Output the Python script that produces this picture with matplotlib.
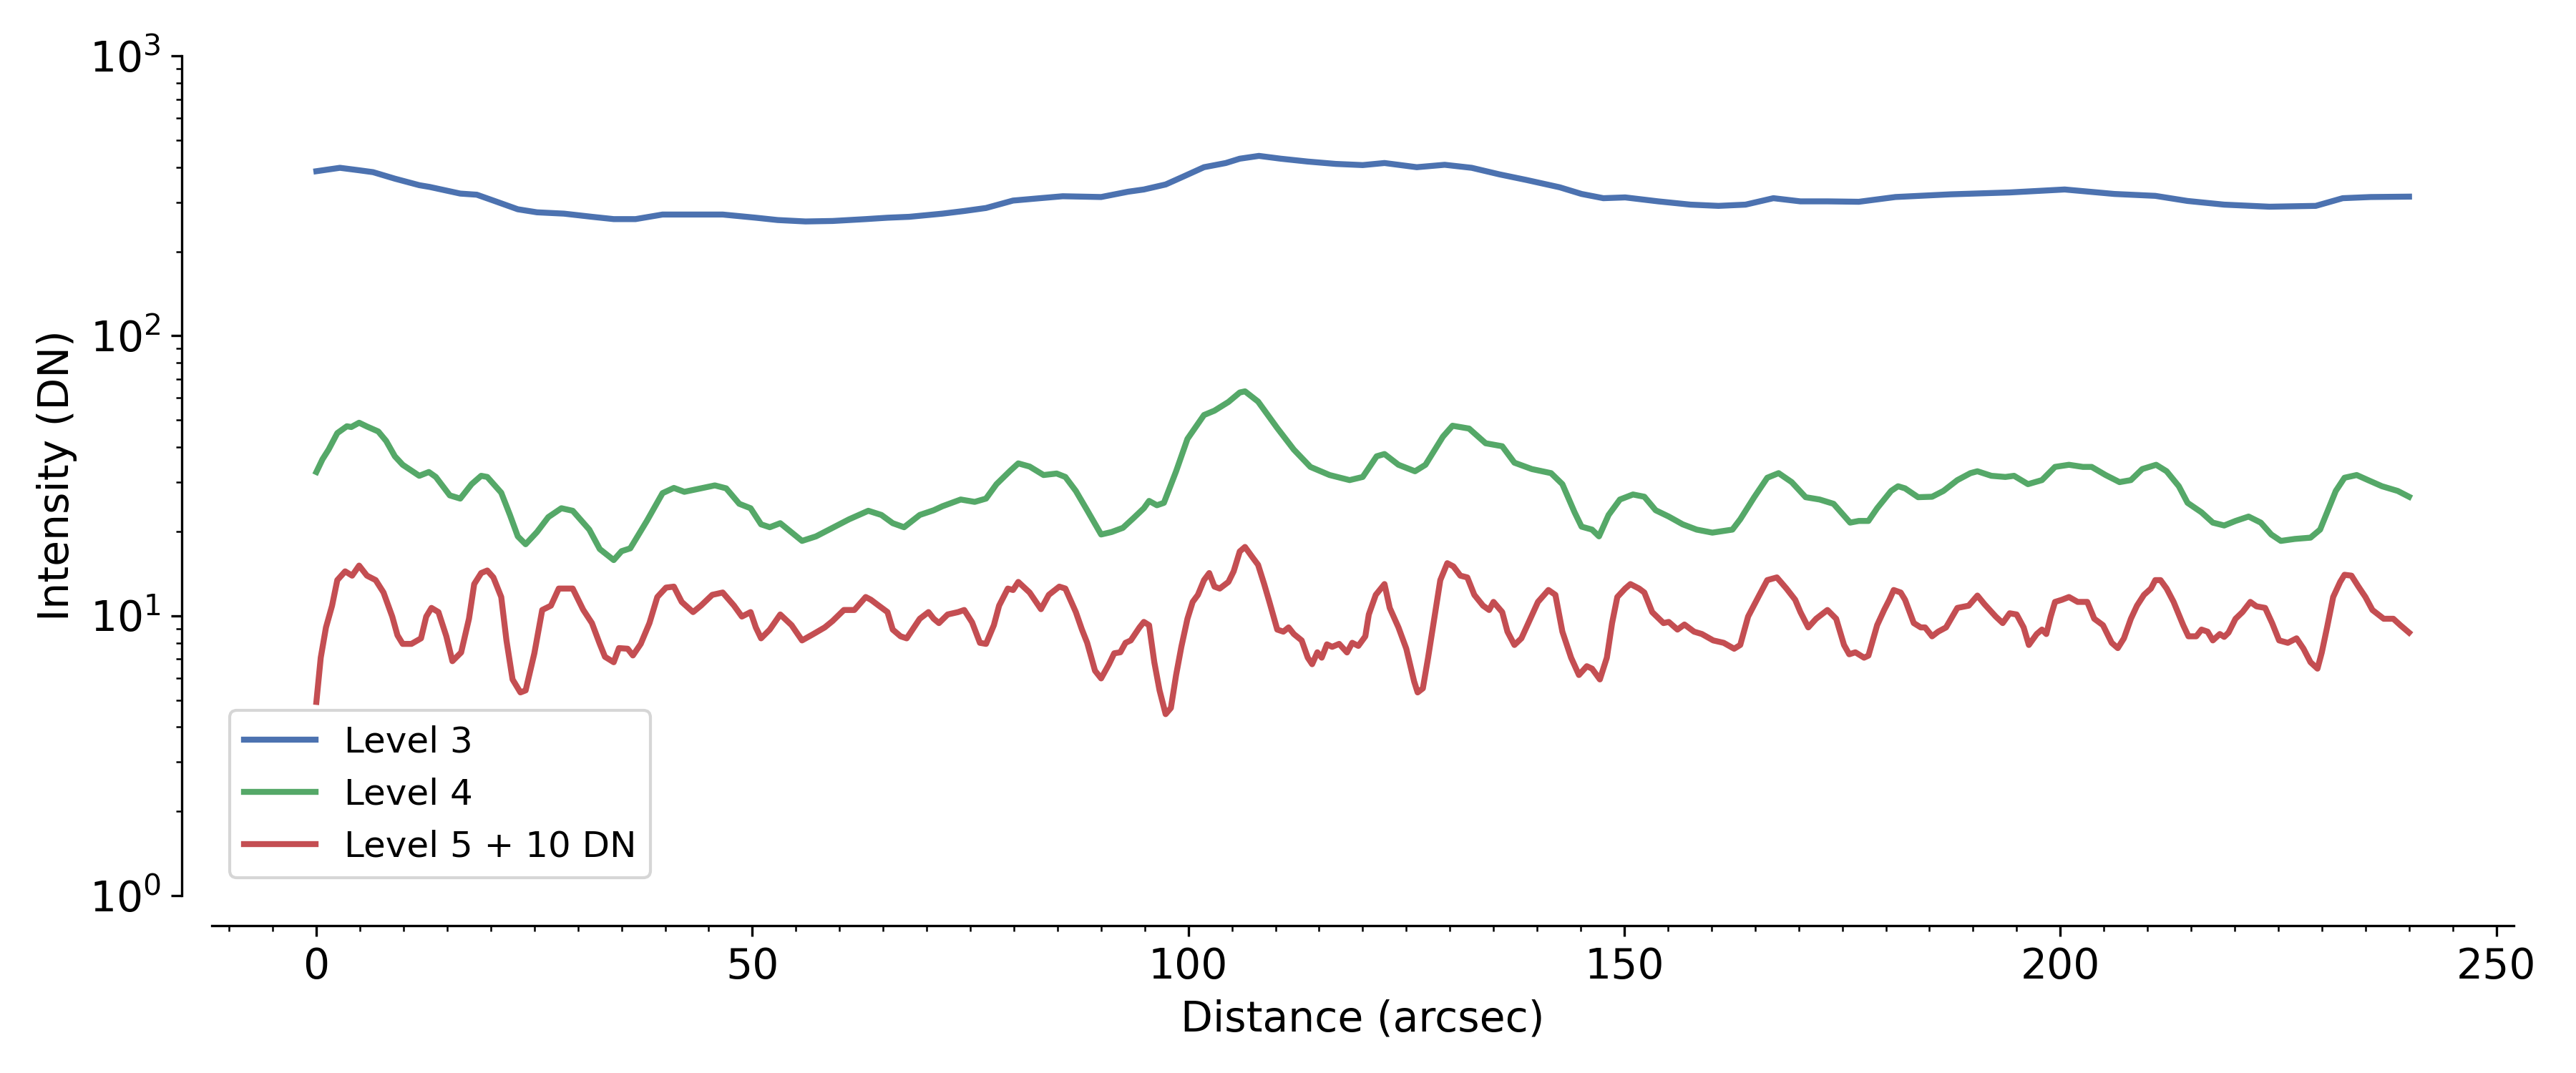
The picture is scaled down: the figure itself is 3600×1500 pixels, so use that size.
import numpy as np
import matplotlib.pyplot as plt
from matplotlib.ticker import MultipleLocator

# Level 3 profile (DN)
level3_x = [0, 2.7, 4.9, 6.5, 9, 11.8, 13, 16.5, 18.4, 20.3, 23.1, 25.3, 28.4, 31.6, 34.1, 36.6,
            39.7, 42.9, 46.6, 50.4, 52.9, 56.1, 59.2, 63, 65.5, 68, 71.8, 74.3, 76.8, 79.9, 83,
            85.6, 90, 93.1, 94.9, 97.4, 99.4, 101.8, 104.3, 105.9, 108.1, 110.6, 113.7, 116.9,
            120, 122.5, 126.2, 129.4, 132.5, 135.7, 138.8, 142.6, 145.1, 147.6, 150.1, 153.9,
            157.6, 160.8, 163.9, 167.1, 170.2, 173.3, 176.9, 181.1, 187.4, 194.2, 200.5, 206.2,
            210.9, 214.6, 218.8, 224, 229.3, 232.4, 235.6, 240]
level3_y = [387, 398, 390, 384, 364, 345, 340, 322, 319, 304, 283, 276, 273, 266, 261, 261,
            271, 271, 271, 264, 259, 256, 257, 261, 264, 266, 273, 279, 286, 304, 310,
            315, 313, 327, 333, 347, 370, 400, 414, 429, 439, 429, 419, 411,
            407, 414, 400, 408, 398, 377, 360, 339, 321, 310, 312, 302,
            294, 291, 294, 310, 302, 302, 301, 313, 320, 325, 333, 321,
            316, 303, 294, 289, 291, 310, 313, 314]

# Level 4 profile (DN)
level4_x = [0, 0.7, 1.4, 2.4, 3.5, 4, 4.9, 5.8, 7.1, 8, 9, 9.9, 11.8, 12.9, 13.7, 15.3, 16.5,
            17.8, 18.9, 19.6, 21.2, 22.2, 23.1, 24, 25.3, 26.6, 28.1, 29.4, 31.3, 32.5, 34.1,
            35, 36, 37.9, 39.7, 41, 42.2, 44.1, 45.7, 47, 48.5, 49.8, 51, 52, 53.2, 54.8, 55.7,
            57.3, 59.2, 61.1, 63.3, 64.8, 66.1, 67.4, 69.2, 70.8, 71.8, 73.9, 75.5, 76.8, 78,
            79.6, 80.5, 81.8, 83.4, 84.9, 85.9, 87.1, 88.4, 90, 91.2, 92.5, 93.7, 94.9, 95.5,
            96.4, 97.2, 98.6, 99.9, 101.8, 103, 104.6, 105.9, 106.5, 108, 110.2, 112.1, 114,
            116.2, 118.5, 120, 121.6, 122.5, 124.1, 126, 127.2, 129.2, 130.3, 132.2, 134.1,
            136, 137.4, 139.4, 141.6, 142.9, 144.3, 145.1, 146.3, 147.1, 148.2, 149.5, 151,
            152.3, 153.6, 155.1, 156.7, 158.3, 160.1, 162.4, 163.3, 164.9, 166.4, 167.7, 169.2,
            170.8, 172.4, 174, 175.9, 176.9, 178, 179, 180.6, 181.4, 182.2, 183.7, 185.3,
            186.6, 188.2, 189.7, 190.5, 192.1, 193.7, 194.7, 196.3, 197.9, 199.4, 201, 202.6,
            203.6, 205.2, 206.8, 208.1, 209.4, 211, 212.2, 213.6, 214.6, 216.2, 217.5, 218.8,
            220.1, 221.6, 223, 224.2, 225.3, 226.9, 228.7, 229.8, 230.8, 231.6, 232.6, 234,
            235.3, 236.9, 238.7, 240]
level4_y = [32.6, 36.2, 39.2, 44.9, 47.5, 47.2, 48.9, 47.4, 45.5, 42.1, 37.1, 34.6, 31.6, 32.6,
            31.3, 26.9, 26.2, 29.5, 31.6, 31.3, 27.5, 22.9, 19.2, 18.0, 19.9, 22.5, 24.2, 23.7,
            20.3, 17.3, 15.8, 17.0, 17.4, 21.8, 27.4, 28.6, 27.7, 28.5, 29.2, 28.5, 25.1, 24.2,
            21.2, 20.7, 21.4, 19.5, 18.5, 19.2, 20.6, 22.1, 23.7, 22.9, 21.4, 20.7, 22.9, 23.8,
            24.6, 26.0, 25.5, 26.2, 29.5, 33.0, 35.0, 34.1, 31.8, 32.2, 31.3, 27.9, 23.8, 19.5,
            19.9, 20.6, 22.3, 24.2, 25.7, 24.8, 25.3, 32.8, 42.8, 52.1, 54.0, 58.0, 62.7, 63.3,
            58.2, 46.8, 39.2, 34.0, 31.8, 30.5, 31.3, 37.1, 37.8, 34.6, 32.8, 34.6, 43.6, 47.7,
            46.6, 41.3, 40.3, 35.2, 33.4, 32.3, 29.5, 23.4, 20.8, 20.3, 19.2, 22.9, 26.0, 27.1,
            26.6, 23.8, 22.6, 21.2, 20.3, 19.8, 20.3, 22.1, 26.5, 31.1, 32.3, 30.0, 26.5, 26.0,
            25.1, 21.5, 21.8, 21.8, 24.2, 27.9, 29.0, 28.5, 26.5, 26.6, 27.9, 30.5, 32.3, 32.8,
            31.6, 31.3, 31.6, 29.5, 30.5, 34.0, 34.6, 34.0, 34.0, 31.8, 30.0, 30.5, 33.4, 34.6,
            32.8, 29.0, 25.3, 23.4, 21.5, 21.0, 21.8, 22.6, 21.5, 19.5, 18.5, 18.8, 19.0, 20.3,
            24.2, 27.9, 31.1, 31.8, 30.5, 29.0, 27.9, 26.6]

# Level 5 profile, shifted by +10 DN
level5_x = [0, 0.5, 1.1, 1.8, 2.4, 3.3, 4.1, 4.9, 5.8, 6.8, 7.7, 8.7, 9.3, 9.9, 10.9, 12, 12.6,
            13.2, 14, 14.9, 15.6, 16.6, 17.5, 18.1, 18.9, 19.6, 20.3, 21.2, 21.8, 22.5, 23.4,
            24, 25, 25.9, 26.9, 27.8, 28.4, 29.4, 30.6, 31.6, 32.5, 33.1, 34.1, 34.7, 35.7,
            36.3, 37.2, 38.2, 39.1, 40.1, 41, 41.9, 43.2, 44.1, 45.4, 46.6, 47.9, 48.8, 49.8,
            50.4, 51, 52, 53.2, 54.5, 55.7, 57, 58.3, 59.2, 60.5, 61.7, 63, 63.6, 64.5, 65.5,
            66.1, 67, 67.7, 69.2, 70.2, 70.8, 71.4, 72.4, 73.6, 74.3, 75.2, 76.1, 76.8, 77.7,
            78.3, 79.3, 79.9, 80.5, 81.8, 83.1, 84, 85.2, 85.9, 87.1, 87.8, 88.4, 89.3, 90,
            90.9, 91.5, 92.2, 92.8, 93.4, 94.4, 94.9, 95.5, 96.1, 96.7, 97.4, 98, 98.6, 99.2,
            99.9, 100.5, 101.1, 101.8, 102.4, 103, 103.6, 104.6, 105.2, 105.9, 106.5, 107.4,
            108, 108.7, 109.3, 110.2, 110.9, 111.5, 112.1, 113, 113.7, 114.2, 114.8, 115.3,
            115.9, 116.5, 117.3, 118.2, 118.8, 119.5, 120.3, 120.7, 121.5, 122.5, 123.1,
            124.1, 125, 125.9, 126.3, 126.9, 127.5, 128.2, 128.9, 129.7, 130.4, 131.2, 132,
            132.8, 133.8, 134.5, 135, 136, 136.6, 137.4, 138.2, 139.1, 140.1, 141.3, 142.1,
            142.9, 143.9, 144.8, 145.7, 146.3, 147.2, 148, 148.6, 149.2, 150.1, 150.7, 151.7,
            152.3, 153.2, 154.5, 155.1, 156.1, 156.9, 158, 158.9, 160.2, 161.4, 162.6, 163.3,
            164.2, 165.5, 166.4, 167.5, 168.6, 169.6, 170.2, 171.1, 172, 173.3, 174.3, 175.2,
            175.8, 176.5, 177.5, 178, 178.5, 179, 179.8, 180.4, 180.9, 181.7, 182.2, 183.2,
            184, 184.5, 185.3, 186, 186.9, 188.2, 189.5, 190.5, 191.3, 192.6, 193.4, 194.2,
            195, 195.8, 196.4, 197.3, 197.9, 198.4, 198.9, 199.4, 200.2, 201, 202, 203.1,
            203.9, 204.9, 205.9, 206.6, 207.3, 208.1, 208.8, 209.6, 210.4, 210.9, 211.5,
            212.2, 213, 214.1, 214.7, 215.6, 216.2, 216.9, 217.5, 218.3, 218.8, 219.3, 220.1,
            220.9, 221.8, 222.5, 223.5, 224.3, 225.1, 226.1, 227.1, 227.9, 228.7, 229.5, 230,
            230.6, 231.3, 232.1, 232.6, 233.4, 234.2, 235, 235.8, 237.1, 238.2, 239, 240]
level5_y = [4.92, 7.08, 9.08, 10.86, 13.4, 14.4, 13.9, 15.1, 13.9, 13.4, 12.1, 9.93, 8.51, 7.93,
            7.93, 8.30, 9.93, 10.66, 10.3, 8.45, 6.88, 7.39, 9.75, 12.97, 14.2, 14.5, 13.7,
            11.66, 8.16, 5.92, 5.32, 5.41, 7.34, 10.48, 10.86, 12.5, 12.5, 12.5, 10.5, 9.41,
            7.93, 7.13, 6.82, 7.66, 7.62, 7.21, 7.93, 9.41, 11.66, 12.6, 12.7, 11.2, 10.3,
            10.86, 11.87, 12.1, 10.86, 9.93, 10.3, 9.08, 8.30, 8.92, 10.1, 9.25, 8.16, 8.6,
            9.08, 9.57, 10.48, 10.48, 11.66, 11.4, 10.86, 10.3, 8.92, 8.44, 8.30, 9.75, 10.3,
            9.75, 9.41, 10.1, 10.3, 10.48, 9.47, 8.0, 7.93, 9.25, 10.86, 12.5, 12.35, 13.2,
            12.1, 10.55, 11.87, 12.7, 12.5, 10.3, 8.92, 8.0, 6.36, 5.97, 6.71, 7.34, 7.4, 8.0,
            8.16, 9.08, 9.5, 9.25, 6.82, 5.41, 4.45, 4.68, 6.14, 7.74, 9.75, 11.2, 11.87,
            13.4, 14.2, 12.7, 12.5, 13.2, 14.4, 16.96, 17.6, 16.1, 15.2, 12.97, 11.2, 8.92,
            8.77, 9.08, 8.6, 8.16, 7.08, 6.71, 7.4, 7.08, 7.9, 7.74, 7.93, 7.39, 8.0, 7.8,
            8.44, 10.1, 11.87, 12.97, 10.66, 9.08, 7.62, 5.82, 5.32, 5.5, 7.08, 9.75, 13.4,
            15.4, 15.0, 13.9, 13.7, 11.87, 10.86, 10.48, 11.2, 10.3, 8.77, 7.86, 8.30, 9.57,
            11.2, 12.35, 11.87, 8.77, 7.08, 6.14, 6.6, 6.47, 5.92, 7.08, 9.41, 11.66, 12.5,
            12.97, 12.5, 12.1, 10.3, 9.41, 9.5, 8.92, 9.3, 8.77, 8.6, 8.16, 8.0, 7.62, 7.86,
            9.93, 11.87, 13.4, 13.7, 12.5, 11.4, 10.3, 9.08, 9.75, 10.48, 9.75, 7.86, 7.28,
            7.4, 7.08, 7.2, 8.16, 9.25, 10.48, 11.4, 12.35, 12.1, 11.4, 9.41, 9.08, 9.08,
            8.44, 8.77, 9.08, 10.66, 10.86, 11.8, 11.0, 9.93, 9.41, 10.2, 10.1, 9.08, 7.86,
            8.6, 8.92, 8.6, 9.93, 11.2, 11.4, 11.66, 11.2, 11.2, 9.75, 9.25, 8.0, 7.66, 8.3,
            9.75, 10.86, 11.87, 12.5, 13.4, 13.4, 12.5, 11.2, 9.25, 8.44, 8.44, 8.92, 8.77,
            8.16, 8.6, 8.4, 8.7, 9.75, 10.3, 11.2, 10.8, 10.66, 9.41, 8.16, 8.0, 8.3, 7.62,
            6.82, 6.47, 7.4, 9.08, 11.66, 13.2, 14.0, 13.9, 12.7, 11.66, 10.48, 9.75, 9.75,
            9.25, 8.7]

labels = ['Level 3', 'Level 4', 'Level 5 + 10 DN']
colors = ['#4C72B0', '#55A868', '#C44E52']

fig = plt.figure(figsize=(12, 5), dpi=300)
ax = fig.add_axes([0.0822, 0.1653, 0.8936, 0.7827])

ax.plot(level3_x, level3_y, color=colors[0], lw=2, label=labels[0])
ax.plot(level4_x, level4_y, color=colors[1], lw=2, label=labels[1])
ax.plot(level5_x, level5_y, color=colors[2], lw=2, label=labels[2])

ax.set_yscale('log')
ax.set_ylim(1, 1000)
ax.xaxis.set_minor_locator(MultipleLocator(5))

# seaborn-like despine with offset
ax.spines['top'].set_visible(False)
ax.spines['right'].set_visible(False)
ax.spines['left'].set_position(('outward', 10))
ax.spines['bottom'].set_position(('outward', 10))

ax.tick_params(labelsize=14)
ax.set_xlabel('Distance (arcsec)', fontsize=14)
ax.set_ylabel('Intensity (DN)', fontsize=14)
ax.legend(loc='lower left', fontsize=12)

fig.savefig('out.png', dpi=300)
